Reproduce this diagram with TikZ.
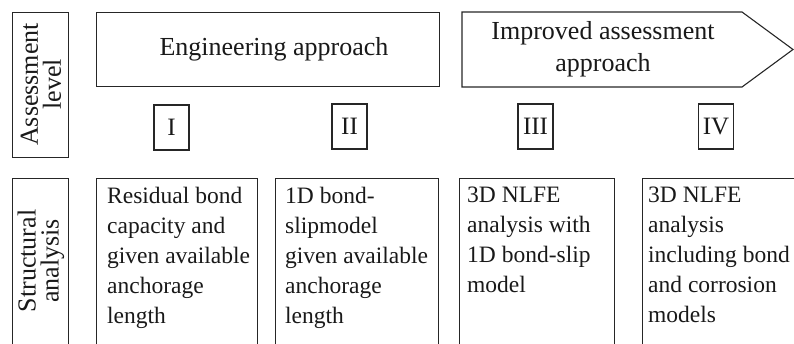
\documentclass[tikz,border=0pt]{standalone}
\usepackage{fontspec}
\setmainfont{Liberation Serif}
\begin{document}
\begin{tikzpicture}[x=1pt,y=-1pt,
  box/.style={draw=black!85, line width=1.1pt, inner sep=0pt},
  body/.style={font=\fontsize{23.5}{30}\selectfont, align=left, inner sep=0pt, anchor=north west, text=black!90},
  head/.style={font=\fontsize{26}{32}\selectfont, align=center, inner sep=0pt, text=black!90},
  side/.style={font=\fontsize{26}{23}\selectfont, align=center, inner sep=0pt, rotate=90, text=black!90},
  roman/.style={box, minimum width=35pt, minimum height=45pt, font=\fontsize{25}{30}\selectfont, text=black!90}]
\useasboundingbox (0,0) rectangle (794,344);
\clip (0,0) rectangle (794,344);
% side labels
\node[box, anchor=north west, minimum width=56pt, minimum height=145pt] (alevel) at (12,12) {};
\node[side] (alevelt) at (41,84.5) {Assessment\\level};
\node[box, anchor=north west, minimum width=56pt, minimum height=180pt] (sana) at (12,178) {};
\node[side] (sanat) at (41,261) {Structural\\analysis};
% top row
\node[box, anchor=north west, minimum width=343pt, minimum height=74pt] (eng) at (96,12) {};
\node[head] (engt) at (274,49) {Engineering approach};
\coordinate (i1) at (462,12);
\coordinate (i2) at (742,12);
\coordinate (i3) at (793,49.5);
\coordinate (i4) at (742,87);
\coordinate (i5) at (462,87);
\draw[box, line join=miter] (i1) -- (i2) -- (i3) -- (i4) -- (i5) -- cycle;
\node[head] (impt) at (603,49.5) {Improved assessment\\approach};
% roman numerals
\node[roman] (r1) at (171.5,127.5) {I};
\node[roman] (r2) at (349.5,126.5) {II};
\node[roman] (r3) at (535.5,126.5) {III};
\node[roman] (r4) at (716,126.5) {IV};
% bottom boxes
\node[box, anchor=north west, minimum width=161pt, minimum height=180pt] (b1) at (96,178) {};
\node[box, anchor=north west, minimum width=163pt, minimum height=180pt] (b2) at (275,178) {};
\node[box, anchor=north west, minimum width=155pt, minimum height=180pt] (b3) at (459,178) {};
\node[box, anchor=north west, minimum width=160pt, minimum height=180pt] (b4) at (642,178) {};
\node[body] (b1t) at (107,187) {Residual bond\\capacity and\\given available\\anchorage\\length};
\node[body] (b2t) at (285,187) {1D bond-\\slipmodel\\given available\\anchorage\\length};
\node[body] (b3t) at (467,187) {3D NLFE\\analysis with\\1D bond-slip\\model};
\node[body] (b4t) at (648,187) {3D NLFE\\analysis\\including bond\\and corrosion\\models};
\end{tikzpicture}
\end{document}
